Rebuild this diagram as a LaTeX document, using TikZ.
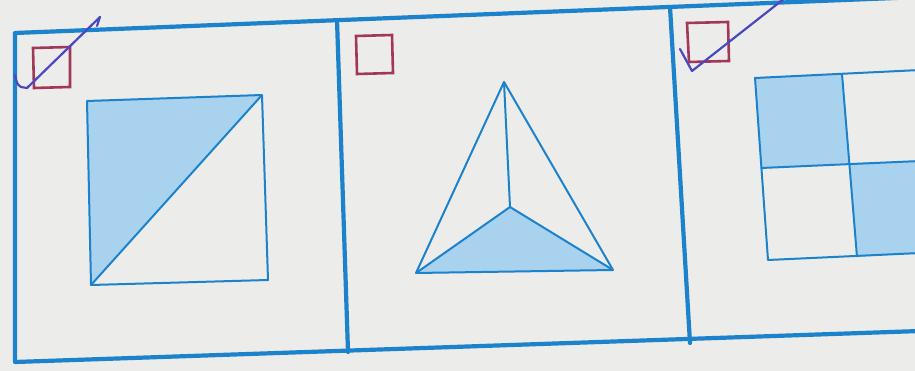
\documentclass[tikz,border=0pt]{standalone}
\begin{document}
\begin{tikzpicture}[x=1pt,y=-1pt,
  framel/.style={draw=frameblue,line width=4.2pt,line cap=round,line join=round},
  figl/.style={draw=frameblue,line width=2pt,line join=round},
  shade/.style={fill=lightblue},
  cbox/.style={draw=boxred,line width=2.6pt},
  pen/.style={draw=penblue,line width=2.2pt,line cap=round,line join=round}]
\definecolor{frameblue}{HTML}{1C82CC}
\definecolor{lightblue}{HTML}{A8D2EE}
\definecolor{boxred}{HTML}{A2375A}
\definecolor{penblue}{HTML}{4A48C0}
\definecolor{paper}{HTML}{ECECEA}
\useasboundingbox (0,0) rectangle (915,371);
\fill[paper] (0,0) rectangle (915,371);
\begin{scope}
\clip (0,0) rectangle (915,371);
% outer frame
\draw[framel] (920,-3) -- (15,33) -- (15,362) -- (920,331);
\draw[framel] (337,20) -- (348,352);
\draw[framel] (670,7) -- (690,343);
% check boxes
\draw[cbox] (33,48) -- (70,47) -- (70,87) -- (34,88) -- cycle;
\draw[cbox] (356,36) -- (392,35) -- (393,73) -- (357,74) -- cycle;
\draw[cbox] (687,23) -- (728,22) -- (729,61) -- (689,62) -- cycle;
% panel 1: square with diagonal
\coordinate (a1) at (87,101);
\coordinate (a2) at (262,95);
\coordinate (a3) at (268,280);
\coordinate (a4) at (91,285);
\fill[shade] (a1) -- (a2) -- (a4) -- cycle;
\draw[figl] (a1) -- (a2) -- (a3) -- (a4) -- cycle;
\draw[figl] (a4) -- (a2);
% panel 2: triangle with centre
\coordinate (t1) at (504,82);
\coordinate (t2) at (416,273);
\coordinate (t3) at (613,270);
\coordinate (tc) at (510,207);
\fill[shade] (t2) -- (tc) -- (t3) -- cycle;
\draw[figl] (t1) -- (t2) -- (t3) -- cycle;
\draw[figl] (tc) -- (t1) (tc) -- (t2) (tc) -- (t3);
% panel 3: 2x2 grid
\coordinate (g1) at (755,78);
\coordinate (g2) at (842,74);
\coordinate (g3) at (920,70);
\coordinate (g4) at (761,168);
\coordinate (g5) at (850,163);
\coordinate (g6) at (920,161);
\coordinate (g7) at (768,260);
\coordinate (g8) at (857,257);
\coordinate (g9) at (920,253);
\fill[shade] (g1) -- (g2) -- (g5) -- (g4) -- cycle;
\fill[shade] (g5) -- (g6) -- (g9) -- (g8) -- cycle;
\draw[figl] (g3) -- (g1) -- (g7) -- (g9);
\draw[figl] (g4) -- (g6);
\draw[figl] (g2) -- (g8);
% check marks
\draw[pen] (15,75) .. controls (17,84) .. (21,87) -- (27,88) -- (100,17) (97,26) -- (100,17);
\draw[pen] (680,49) -- (692,71) -- (785,-2);
\end{scope}
\end{tikzpicture}
\end{document}
